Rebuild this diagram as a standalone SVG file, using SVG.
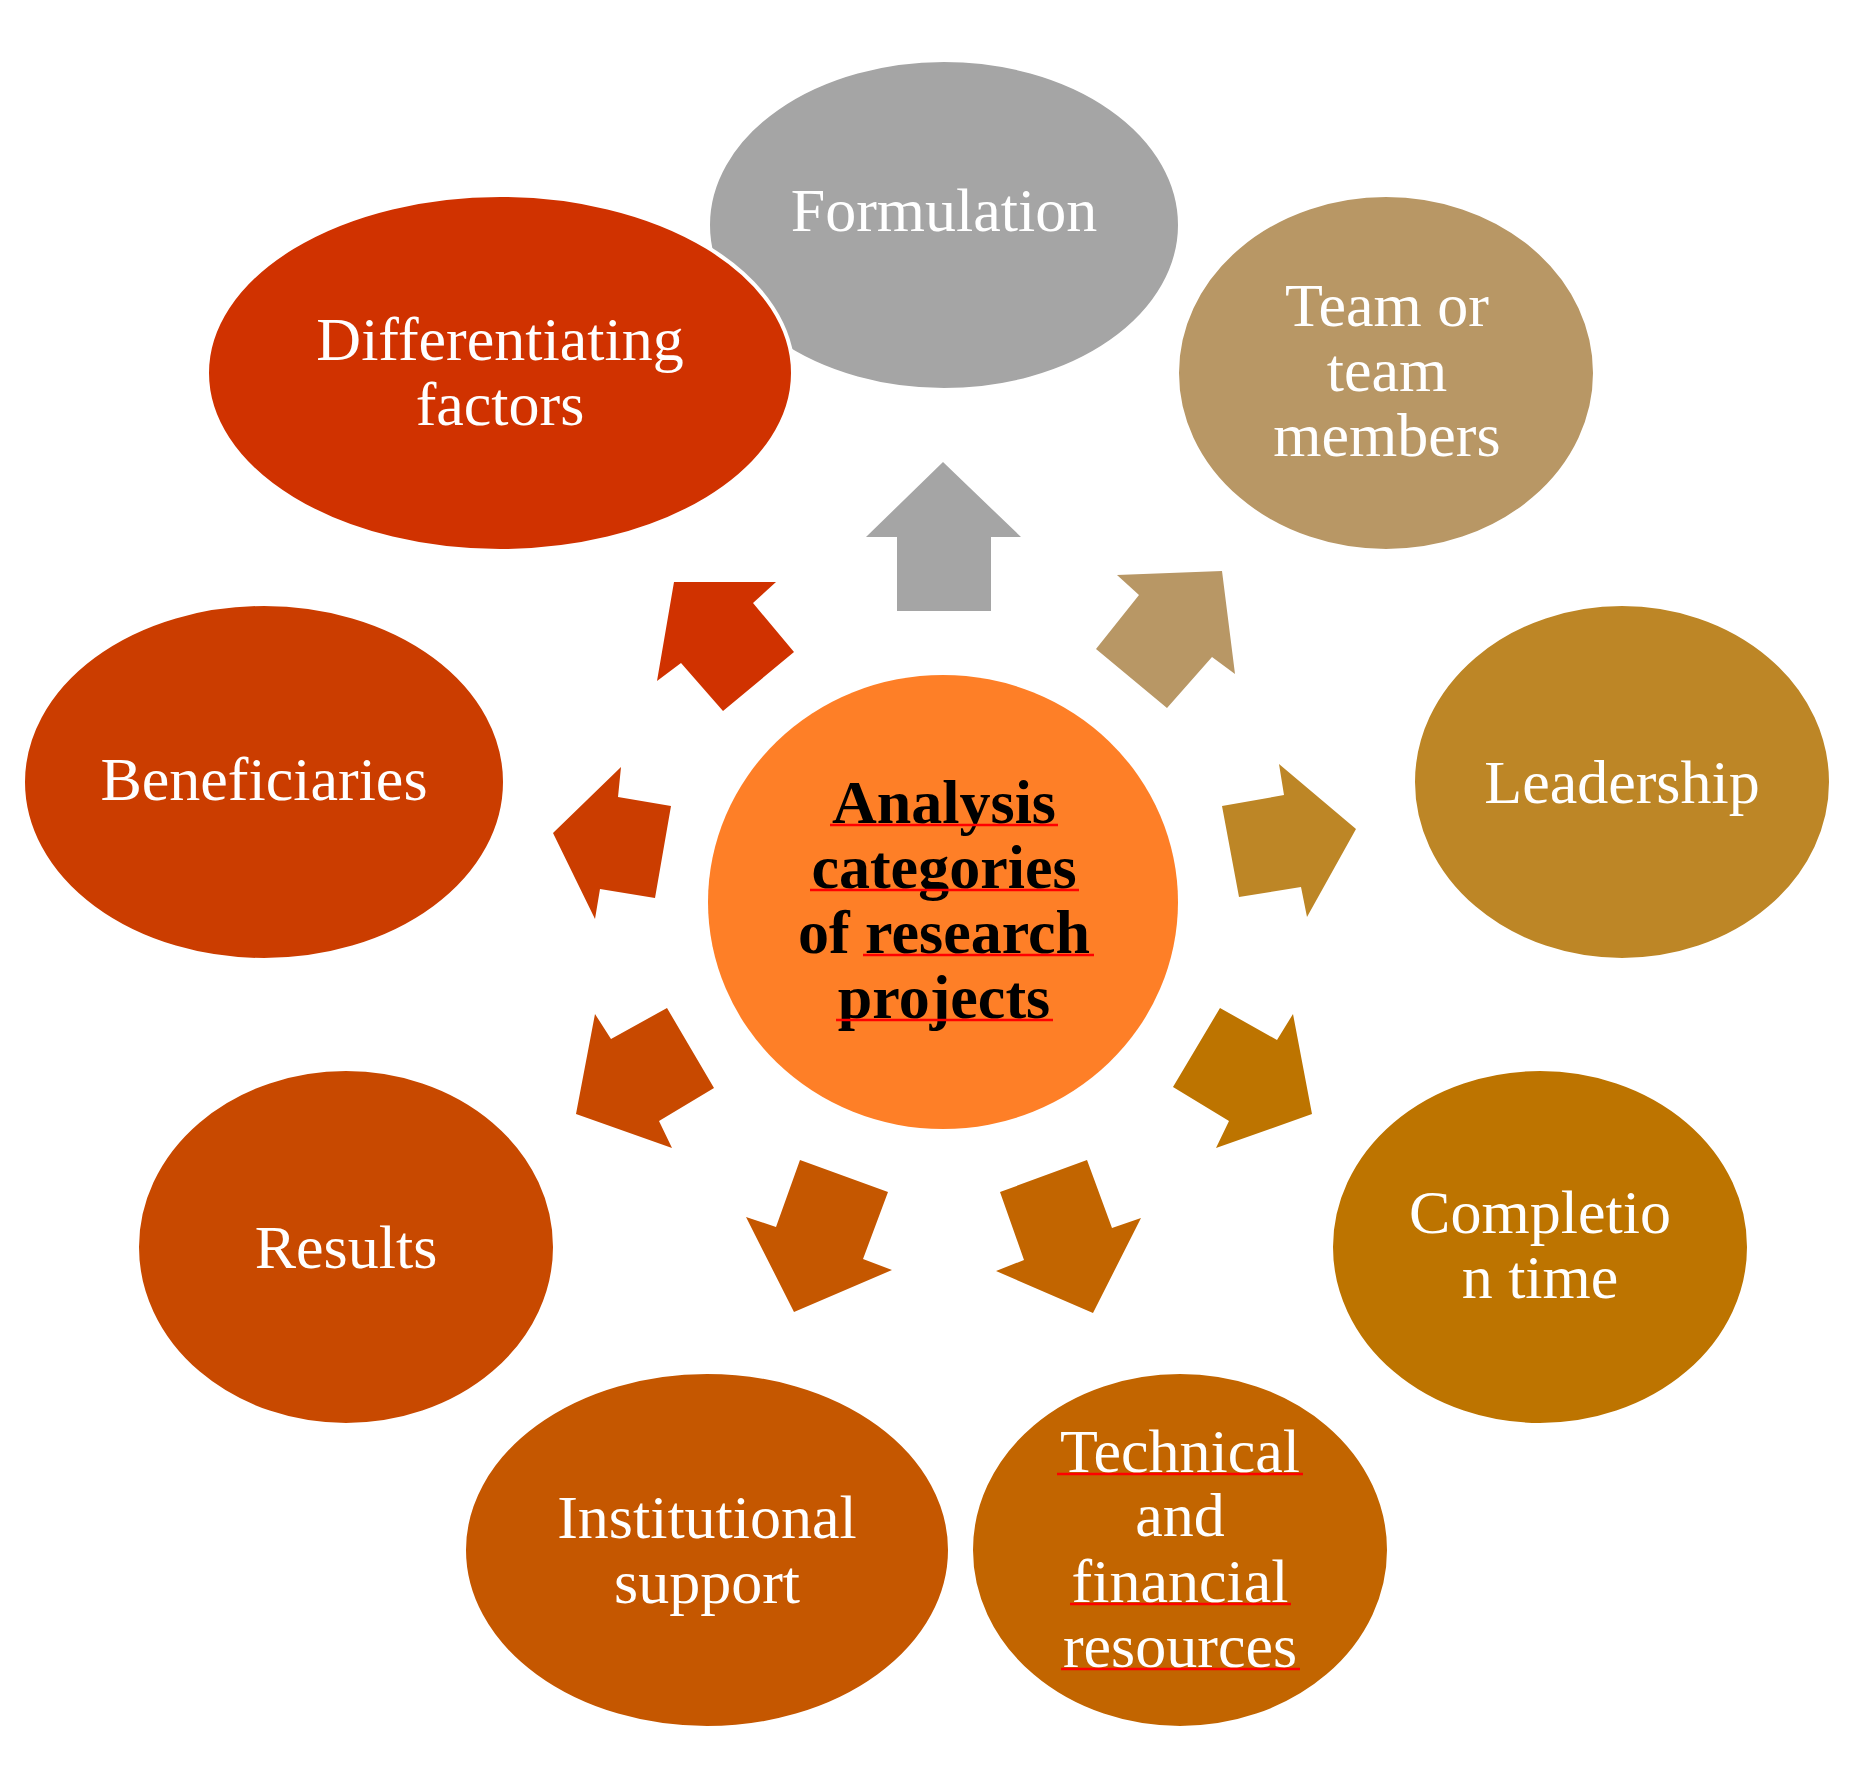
<svg xmlns="http://www.w3.org/2000/svg" width="1871" height="1779" viewBox="0 0 1871 1779">
<style>
.node{stroke:#FFFFFF;stroke-width:4}
.lbl{font-family:"Liberation Serif","Times New Roman",serif;font-size:62px;fill:#FFFFFF;text-anchor:middle}
.ctr{font-family:"Liberation Serif","Times New Roman",serif;font-size:62px;font-weight:bold;fill:#000000;text-anchor:middle}
.sp{stroke:#FF0000;stroke-width:2.5;fill:none}
</style>
<rect width="1871" height="1779" fill="#FFFFFF"/>
<g id="connectors">
<polygon fill="#A5A5A5" points="943,462 1021,537 991,537 991,611 897,611 897,537 866,537"/>
<polygon fill="#B89765" points="1222,571 1235,674 1212,657 1167,708 1096,649 1139,595 1117,575"/>
<polygon fill="#BD8626" points="1356,829 1307,917 1301,887 1239,897 1222,806 1284,795 1279,764"/>
<polygon fill="#BD7400" points="1312,1114 1216,1148 1229,1121 1173,1087 1220,1008 1277,1040 1293,1014"/>
<polygon fill="#C26500" points="1093,1313 996,1271 1024,1260 1000,1192 1087,1160 1112,1228 1141,1218"/>
<polygon fill="#C55700" points="794,1312 892,1270 863,1259 888,1192 800,1160 776,1227 746,1217"/>
<polygon fill="#C84900" points="576,1114 595,1014 611,1039 667,1008 714,1088 659,1121 672,1148"/>
<polygon fill="#CB3D00" points="553,833 621,767 618,797 671,806 655,898 600,889 595,919"/>
<polygon fill="#D03200" points="674,582 776,582 753,603 794,652 723,711 681,663 657,681"/>
</g>
<g id="center">
<ellipse cx="943" cy="902" rx="235" ry="227" fill="#FE7F27"/>
<text class="ctr" x="944" y="823">Analysis</text>
<text class="ctr" x="944" y="888">categories</text>
<text class="ctr" x="944" y="953">of research</text>
<text class="ctr" x="944" y="1018">projects</text>
<line class="sp" x1="830" y1="825" x2="1058" y2="825"/>
<line class="sp" x1="810" y1="890" x2="1079" y2="890"/>
<line class="sp" x1="863" y1="955" x2="1094" y2="955"/>
<line class="sp" x1="836" y1="1020" x2="1053" y2="1020"/>
</g>
<g id="formulation">
<ellipse class="node" cx="944" cy="225" rx="236" ry="165" fill="#A5A5A5"/>
<text class="lbl" x="944" y="231">Formulation</text>
</g>
<g id="team">
<ellipse class="node" cx="1386" cy="373" rx="209" ry="178" fill="#B89765"/>
<text class="lbl" x="1387" y="326">Team or</text>
<text class="lbl" x="1387" y="391">team</text>
<text class="lbl" x="1387" y="456">members</text>
</g>
<g id="leadership">
<ellipse class="node" cx="1622" cy="782" rx="209" ry="178" fill="#BD8626"/>
<text class="lbl" x="1622" y="803">Leadership</text>
</g>
<g id="completion">
<ellipse class="node" cx="1540" cy="1247" rx="209" ry="178" fill="#BD7400"/>
<text class="lbl" x="1540" y="1233">Completio</text>
<text class="lbl" x="1540" y="1298">n time</text>
</g>
<g id="resources">
<ellipse class="node" cx="1180" cy="1550" rx="209" ry="178" fill="#C26500"/>
<text class="lbl" x="1180" y="1472">Technical</text>
<text class="lbl" x="1180" y="1536">and</text>
<text class="lbl" x="1180" y="1602">financial</text>
<text class="lbl" x="1180" y="1667">resources</text>
<line class="sp" x1="1057" y1="1474" x2="1303" y2="1474"/>
<line class="sp" x1="1070" y1="1604" x2="1291" y2="1604"/>
<line class="sp" x1="1061" y1="1669" x2="1300" y2="1669"/>
</g>
<g id="institutional">
<ellipse class="node" cx="707" cy="1550" rx="243" ry="178" fill="#C55700"/>
<text class="lbl" x="707" y="1538">Institutional</text>
<text class="lbl" x="707" y="1603">support</text>
</g>
<g id="results">
<ellipse class="node" cx="346" cy="1247" rx="209" ry="178" fill="#C84900"/>
<text class="lbl" x="346" y="1268">Results</text>
</g>
<g id="beneficiaries">
<ellipse class="node" cx="264" cy="782" rx="241" ry="178" fill="#CB3D00"/>
<text class="lbl" x="264" y="800">Beneficiaries</text>
</g>
<g id="differentiating">
<ellipse class="node" cx="500" cy="373" rx="293" ry="178" fill="#D03200"/>
<text class="lbl" x="500" y="360">Differentiating</text>
<text class="lbl" x="500" y="425">factors</text>
</g>
</svg>
